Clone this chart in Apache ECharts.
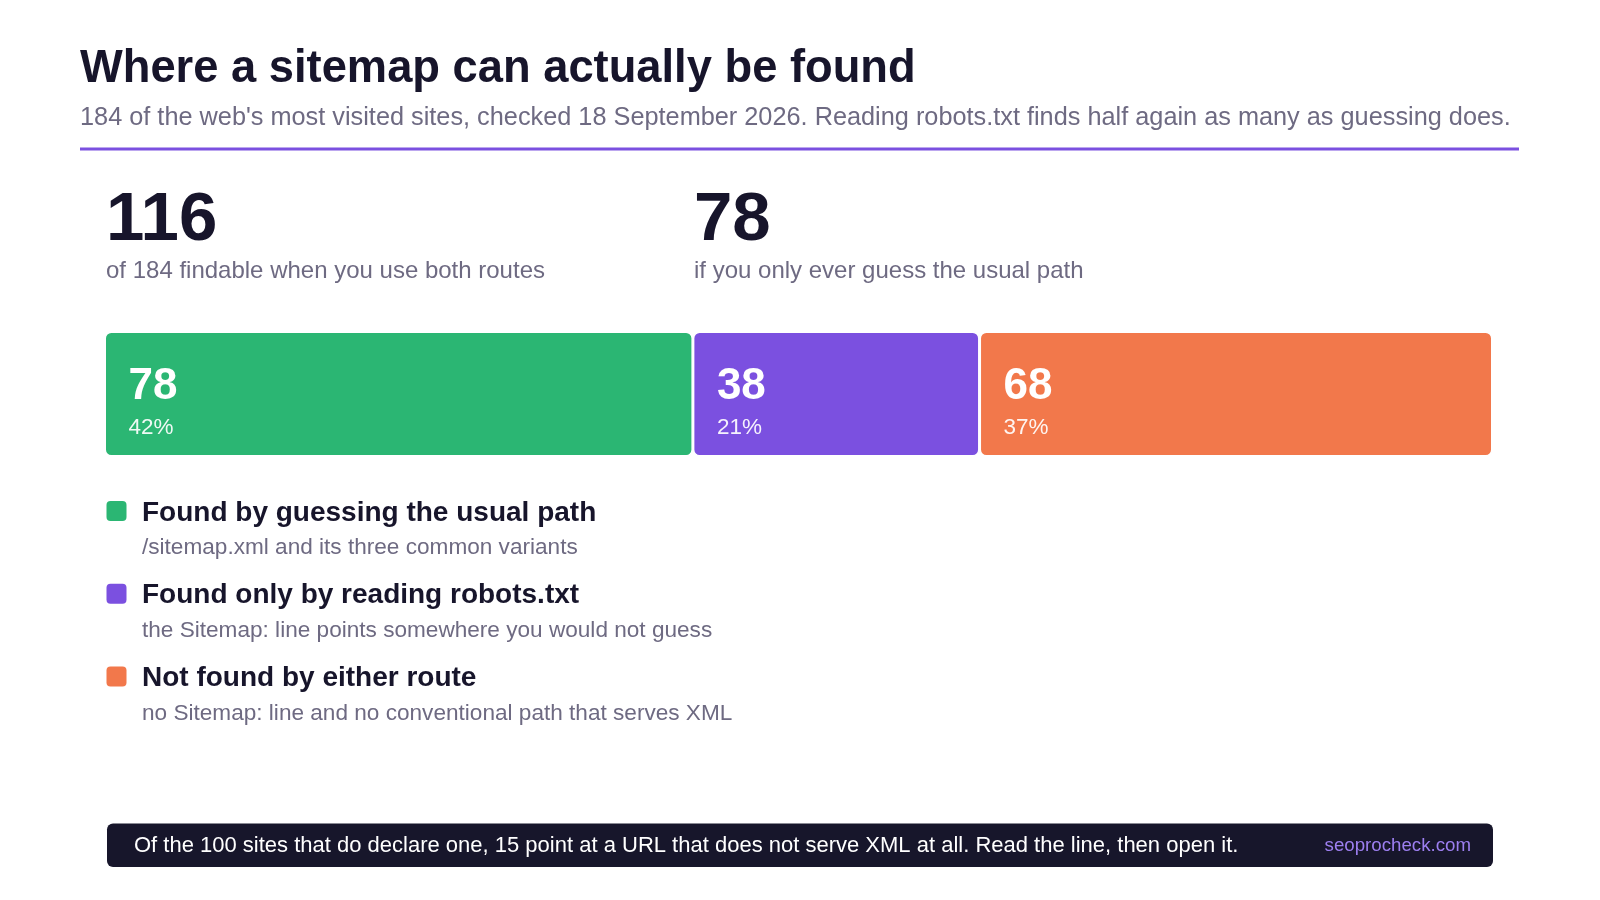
<!DOCTYPE html>
<html>
<head>
<meta charset="utf-8">
<title>Where a sitemap can actually be found</title>
<script src="https://cdn.jsdelivr.net/npm/echarts@6/dist/echarts.min.js"></script>
<style>
    html, body { margin: 0; padding: 0; background: #fff; }
    #box { width: 1600px; height: 900px; }
</style>
</head>
<body>
<div id="box"></div>
<script>
// data
var categories = ['Found by guessing the usual path', 'Found only by reading robots.txt', 'Not found by either route'];
var descriptions = [
    '/sitemap.xml and its three common variants',
    'the Sitemap: line points somewhere you would not guess',
    'no Sitemap: line and no conventional path that serves XML'
];
var siteCounts = [78, 38, 68];
var headlineValues = [116, 78];
var headlineLabels = ['of 184 findable when you use both routes', 'if you only ever guess the usual path'];
var colors = ['#2bb673', '#7b50e0', '#f2784b'];

window.onload = function () {
    var charts = echarts.init(document.getElementById('box'));
    var font = '"Liberation Sans", Arial, sans-serif';
    var ink = '#17152b';
    var grey = '#6e6a82';
    var total = siteCounts.reduce(function (a, b) { return a + b; }, 0);

    // stacked bar, one series per category
    var series = categories.map(function (name, i) {
        return {
            type: 'bar',
            name: name,
            stack: 'all',
            barWidth: '100%',
            data: [siteCounts[i]],
            itemStyle: { color: colors[i], borderColor: '#fff', borderWidth: 1.5, borderRadius: 6 },
            label: {
                show: true,
                position: 'insideLeft',
                distance: 24,
                padding: [16, 0, 0, 0],
                fontFamily: font,
                formatter: function (p) {
                    return '{v|' + p.value + '}\n{p|' + Math.round(p.value / total * 100) + '%}';
                },
                rich: {
                    v: { fontSize: 44, fontWeight: 'bold', color: '#fff', fontFamily: font, lineHeight: 52 },
                    p: { fontSize: 22.5, color: 'rgba(255,255,255,0.92)', fontFamily: font, lineHeight: 30 }
                }
            },
            emphasis: { disabled: true }
        };
    });

    // text, rule, legend keys, footer
    var graphics = [
        { type: 'text', x: 80, y: 70, style: { text: 'Where a sitemap can actually be found', font: 'bold 45.3px ' + font, fill: ink, verticalAlign: 'middle' } },
        { type: 'text', x: 80, y: 118, style: { text: "184 of the web's most visited sites, checked 18 September 2026. Reading robots.txt finds half again as many as guessing does.", font: '25.3px ' + font, fill: grey, verticalAlign: 'middle' } },
        { type: 'rect', shape: { x: 80, y: 147.5, width: 1439, height: 3 }, style: { fill: '#7b50e0' } },
        { type: 'rect', shape: { x: 107, y: 823.5, width: 1386, height: 43.5, r: 6 }, style: { fill: '#17162b' } },
        { type: 'text', x: 134, y: 846, style: { text: 'Of the 100 sites that do declare one, 15 point at a URL that does not serve XML at all. Read the line, then open it.', font: '22px ' + font, fill: '#ffffff', verticalAlign: 'middle' } },
        { type: 'text', x: 1471, y: 846, style: { text: 'seoprocheck.com', font: '18.7px ' + font, fill: '#9d7ff0', align: 'right', verticalAlign: 'middle' } }
    ];
    var headX = [106, 694];
    headlineValues.forEach(function (v, i) {
        graphics.push({ type: 'text', x: headX[i], y: 221, style: { text: String(v), font: 'bold 69px ' + font, fill: ink, verticalAlign: 'middle' } });
        graphics.push({ type: 'text', x: headX[i], y: 271, style: { text: headlineLabels[i], font: '24px ' + font, fill: grey, verticalAlign: 'middle' } });
    });
    categories.forEach(function (name, i) {
        var cy = 511 + i * 82.7;
        graphics.push({ type: 'rect', shape: { x: 106.5, y: cy - 10, width: 20, height: 20, r: 4 }, style: { fill: colors[i] } });
        graphics.push({ type: 'text', x: 142, y: cy + 2, style: { text: name, font: 'bold 28px ' + font, fill: ink, verticalAlign: 'middle' } });
        graphics.push({ type: 'text', x: 142, y: cy + 37, style: { text: descriptions[i], font: '22.6px ' + font, fill: grey, verticalAlign: 'middle' } });
    });

    var option = {
        backgroundColor: '#fff',
        animation: false,
        grid: { left: 104.5, top: 331.5, width: 1388, height: 125 },
        xAxis: { type: 'value', min: 0, max: total, show: false },
        yAxis: { type: 'category', data: ['sites'], show: false },
        series: series,
        graphic: graphics
    };

    charts.setOption(option);
};
</script>
</body>
</html>
